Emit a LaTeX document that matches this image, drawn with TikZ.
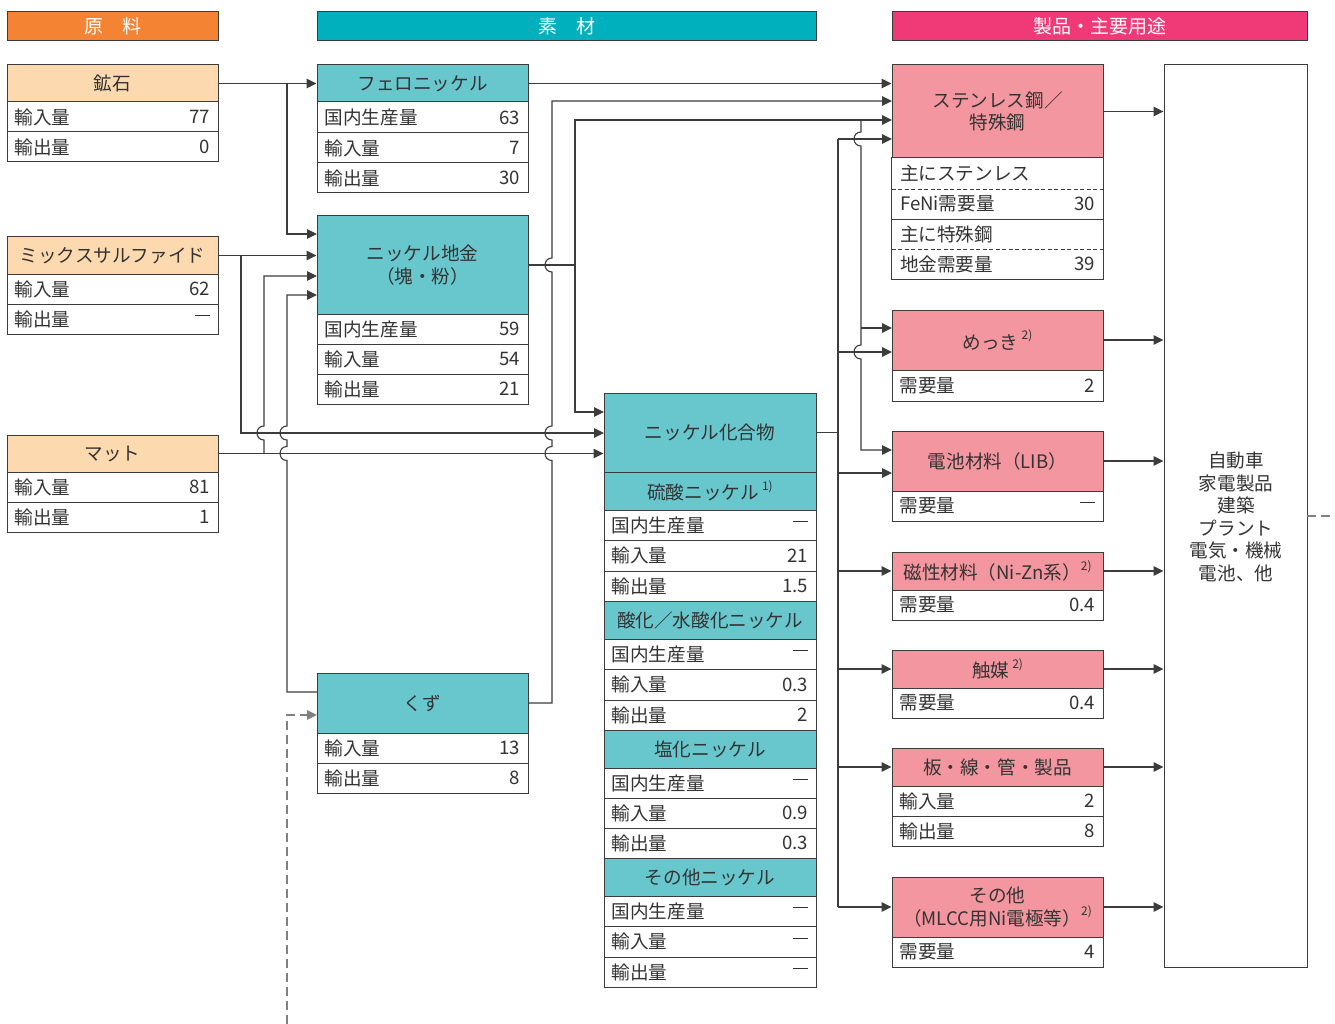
\documentclass[tikz,border=0pt]{standalone}
\usepackage{fontspec}
\setmainfont{Noto Sans CJK JP}
\usetikzlibrary{arrows.meta}
\definecolor{hOrange}{HTML}{F48334}
\definecolor{hTeal}{HTML}{00B0BD}
\definecolor{hPink}{HTML}{EF3A77}
\definecolor{cPeach}{HTML}{FDD9B0}
\definecolor{cTeal}{HTML}{68C6CD}
\definecolor{cPink}{HTML}{F496A0}
\definecolor{linec}{HTML}{3C3C3C}
\definecolor{txt}{HTML}{333333}
\newcommand\fs{\fontsize{18.6}{22.5}\selectfont}
\newcommand\sups[1]{\raisebox{0.5em}{\fontsize{12}{12}\selectfont #1}}
\newcommand\nil{\raisebox{0.36em}{\rule{0.8em}{0.9pt}}}
\newcommand\bx[7]{%
 \pgfmathsetmacro\bw{#4-#2}\pgfmathsetmacro\bh{#5-#3}%
 \pgfmathsetmacro\bcx{(#2+#4)/2}\pgfmathsetmacro\bcy{(#3+#5)/2}%
 \node[#6, minimum width=\bw pt, minimum height=\bh pt] (#1) at (\bcx,\bcy) {#7};}
\newcommand\rw[8][cell]{%
 \bx{#2}{#3}{#4}{#5}{#6}{#1}{}%
 \node[lab, anchor=west] (#2l) at (#2.west) {#7};
 \node[lab, anchor=east] (#2v) at (#2.east) {#8};}
\begin{document}
\begin{tikzpicture}[x=1pt,y=-1pt,
  title/.style={draw=linec, line width=1pt, inner sep=0pt, text=white, font=\fontsize{19}{22}\selectfont},
  hd/.style={draw=linec, line width=1pt, inner sep=0pt, text=txt, font=\fs, align=center},
  cell/.style={draw=linec, fill=white, line width=1pt, inner sep=0pt},
  cellnb/.style={fill=white, inner sep=0pt},
  lab/.style={inner xsep=8pt, inner ysep=0pt, text=txt, font=\fs},
  ln/.style={draw=linec, line width=1.1pt},
  arr/.style={draw=linec, line width=1.1pt, -{Triangle[length=10pt,width=9.5pt]}},
  dsh/.style={draw=gray, line width=1.1pt, dash pattern=on 9pt off 5pt}]
\useasboundingbox (0,0) rectangle (1335,1024);

% ---- column titles
\bx{t1}{7}{12}{218}{41}{title, fill=hOrange}{原　料}
\bx{t2}{317}{12}{816}{41}{title, fill=hTeal}{素　材}
\bx{t3}{892}{12}{1307}{41}{title, fill=hPink}{製品・主要用途}

% ---- raw materials
\bx{ko}{7}{65}{218}{102}{hd, fill=cPeach}{鉱石}
\rw{ko1}{7}{102}{218}{132}{輸入量}{77}
\rw{ko2}{7}{132}{218}{162}{輸出量}{0}

\bx{mx}{7}{237}{218}{274}{hd, fill=cPeach}{ミックスサルファイド}
\rw{mx1}{7}{274}{218}{304}{輸入量}{62}
\rw{mx2}{7}{304}{218}{334}{輸出量}{\nil}

\bx{mt}{7}{435}{218}{472}{hd, fill=cPeach}{マット}
\rw{mt1}{7}{472}{218}{502}{輸入量}{81}
\rw{mt2}{7}{502}{218}{532}{輸出量}{1}

% ---- materials
\bx{fe}{317}{65}{528}{102}{hd, fill=cTeal}{フェロニッケル}
\rw{fe1}{317}{102}{528}{133}{国内生産量}{63}
\rw{fe2}{317}{133}{528}{163}{輸入量}{7}
\rw{fe3}{317}{163}{528}{193}{輸出量}{30}

\bx{ch}{317}{216}{528}{314}{hd, fill=cTeal}{ニッケル地金\\（塊・粉）}
\rw{ch1}{317}{314}{528}{344}{国内生産量}{59}
\rw{ch2}{317}{344}{528}{374}{輸入量}{54}
\rw{ch3}{317}{374}{528}{404}{輸出量}{21}

\bx{kz}{317}{673}{528}{733}{hd, fill=cTeal}{くず}
\rw{kz1}{317}{733}{528}{763}{輸入量}{13}
\rw{kz2}{317}{763}{528}{793}{輸出量}{8}

\bx{kg}{604}{393}{816}{472}{hd, fill=cTeal}{ニッケル化合物}
\bx{kgs1}{604}{472}{816}{510}{hd, fill=cTeal}{硫酸ニッケル\,\sups{1)}}
\rw{kg11}{604}{510}{816}{540}{国内生産量}{\nil}
\rw{kg12}{604}{540}{816}{571}{輸入量}{21}
\rw{kg13}{604}{571}{816}{601}{輸出量}{1.5}
\bx{kgs2}{604}{601}{816}{639}{hd, fill=cTeal}{酸化／水酸化ニッケル}
\rw{kg21}{604}{639}{816}{669}{国内生産量}{\nil}
\rw{kg22}{604}{669}{816}{700}{輸入量}{0.3}
\rw{kg23}{604}{700}{816}{730}{輸出量}{2}
\bx{kgs3}{604}{730}{816}{768}{hd, fill=cTeal}{塩化ニッケル}
\rw{kg31}{604}{768}{816}{798}{国内生産量}{\nil}
\rw{kg32}{604}{798}{816}{828}{輸入量}{0.9}
\rw{kg33}{604}{828}{816}{858}{輸出量}{0.3}
\bx{kgs4}{604}{858}{816}{896}{hd, fill=cTeal}{その他ニッケル}
\rw{kg41}{604}{896}{816}{926}{国内生産量}{\nil}
\rw{kg42}{604}{926}{816}{957}{輸入量}{\nil}
\rw{kg43}{604}{957}{816}{987}{輸出量}{\nil}

% ---- products
\bx{st}{892}{65}{1103}{158}{hd, fill=cPink}{ステンレス鋼／\\特殊鋼}
\rw[cellnb]{st1}{892}{158}{1103}{189}{主にステンレス}{}
\rw[cellnb]{st2}{892}{189}{1103}{219}{FeNi需要量}{30}
\rw[cellnb]{st3}{892}{219}{1103}{249}{主に特殊鋼}{}
\rw[cellnb]{st4}{892}{249}{1103}{279}{地金需要量}{39}
\draw[draw=linec, line width=1pt] (st1.north west) rectangle (st4.south east);
\draw[draw=linec, line width=1pt] (st2.south west) -- (st2.south east);
\draw[draw=linec, line width=0.9pt, dash pattern=on 4pt off 2.5pt] (st1.south west) -- (st1.south east);
\draw[draw=linec, line width=0.9pt, dash pattern=on 4pt off 2.5pt] (st3.south west) -- (st3.south east);

\bx{mk}{892}{310}{1103}{370}{hd, fill=cPink}{めっき\,\sups{2)}}
\rw{mk1}{892}{370}{1103}{401}{需要量}{2}
\bx{dc}{892}{431}{1103}{491}{hd, fill=cPink}{電池材料（LIB）}
\rw{dc1}{892}{491}{1103}{521}{需要量}{\nil}
\bx{jz}{892}{552}{1103}{590}{hd, fill=cPink}{磁性材料（Ni-Zn系）\sups{2)}}
\rw{jz1}{892}{590}{1103}{620}{需要量}{0.4}
\bx{sb}{892}{650}{1103}{688}{hd, fill=cPink}{触媒\,\sups{2)}}
\rw{sb1}{892}{688}{1103}{718}{需要量}{0.4}
\bx{it}{892}{748}{1103}{786}{hd, fill=cPink}{板・線・管・製品}
\rw{it1}{892}{786}{1103}{816}{輸入量}{2}
\rw{it2}{892}{816}{1103}{846}{輸出量}{8}
\bx{ot}{892}{877}{1103}{937}{hd, fill=cPink}{その他\\（MLCC用Ni電極等）\sups{2)}}
\rw{ot1}{892}{937}{1103}{967}{需要量}{4}

\bx{use}{1164}{65}{1307}{967}{cell}{}
\node[align=center, text=txt, font=\fs] (usetxt) at (1236,517) {自動車\\家電製品\\建築\\プラント\\電気・機械\\電池、他};

% ---- junction / end coordinates
\coordinate (j2) at (287,83.5);
\coordinate (chA) at (317,234);
\coordinate (j4) at (241,255.5);
\coordinate (chB) at (317,276);
\coordinate (chC) at (317,295);
\coordinate (mtj) at (264,453.5);
\coordinate (kgA) at (604,412);
\coordinate (kgB) at (604,433);
\coordinate (kzL) at (317,692);
\coordinate (kzD) at (317,715);
\coordinate (kzR) at (528,703);
\coordinate (dashS) at (287,1024);
\coordinate (j11) at (575,265);
\coordinate (stB) at (892,101);
\coordinate (stC) at (892,120);
\coordinate (stD) at (892,139);
\coordinate (j12) at (861,120);
\coordinate (j12b) at (861,328);
\coordinate (mkA) at (892,328);
\coordinate (mkB) at (892,352);
\coordinate (dcA) at (892,450);
\coordinate (dcB) at (892,473);
\coordinate (j13) at (838,432.5);
\coordinate (j13a) at (838,139);
\coordinate (j13b) at (838,907);
\coordinate (useR) at (1307,516);
\coordinate (edgeR) at (1335,516);

% ---- connectors: raw -> materials
\draw[arr] (ko.east) -- (fe.west);
\draw[arr] (j2) |- (chA);
\draw[arr] (mx.east) -- (ch.west |- mx.east);
\draw[arr] (j4) |- (kgB);
\draw[arr] (mt.east) -- (kg.west |- mt.east);
\draw[arr] (mtj) -- (264,440) .. controls (254.7,440) and (254.7,426) .. (264,426) |- (chB);
\draw[arr] (kzL) -- (287,692) -- (287,460.5) .. controls (277.7,460.5) and (277.7,446.5) .. (287,446.5)
  -- (287,440) .. controls (277.7,440) and (277.7,426) .. (287,426) |- (chC);
\draw[dsh, -{Triangle[length=10pt,width=9.5pt]}] (dashS) |- (kzD);

% ---- materials -> products
\draw[arr] (fe.east) -- (st.west |- fe.east);
\draw[arr] (kzR) -- (552,703) -- (552,460.5) .. controls (542.7,460.5) and (542.7,446.5) .. (552,446.5)
  -- (552,440) .. controls (542.7,440) and (542.7,426) .. (552,426)
  -- (552,272) .. controls (542.7,272) and (542.7,258) .. (552,258) |- (stB);
\draw[ln] (ch.east) -- (j11);
\draw[arr] (j11) |- (stC);
\draw[arr] (j11) |- (kgA);
\draw[arr] (j12) -- (861,132) .. controls (851.7,132) and (851.7,146) .. (861,146)
  -- (861,345) .. controls (851.7,345) and (851.7,359) .. (861,359) |- (dcA);
\draw[arr] (j12b) -- (mkA);
\draw[ln] (kg.east) -- (j13);
\draw[ln] (j13a) -- (j13b);
\draw[arr] (j13a) -- (stD);
\draw[arr] (838,352) -- (mkB);
\draw[arr] (838,473) -- (dcB);
\draw[arr] (838,571) -- (jz.west);
\draw[arr] (838,669) -- (sb.west);
\draw[arr] (838,767) -- (it.west);
\draw[arr] (j13b) -- (ot.west);

% ---- products -> uses
\draw[arr] (st.east) -- (use.west |- st.east);
\draw[arr] (mk.east) -- (use.west |- mk.east);
\draw[arr] (dc.east) -- (use.west |- dc.east);
\draw[arr] (jz.east) -- (use.west |- jz.east);
\draw[arr] (sb.east) -- (use.west |- sb.east);
\draw[arr] (it.east) -- (use.west |- it.east);
\draw[arr] (ot.east) -- (use.west |- ot.east);
\draw[dsh] (useR) -- (edgeR);
\end{tikzpicture}
\end{document}
